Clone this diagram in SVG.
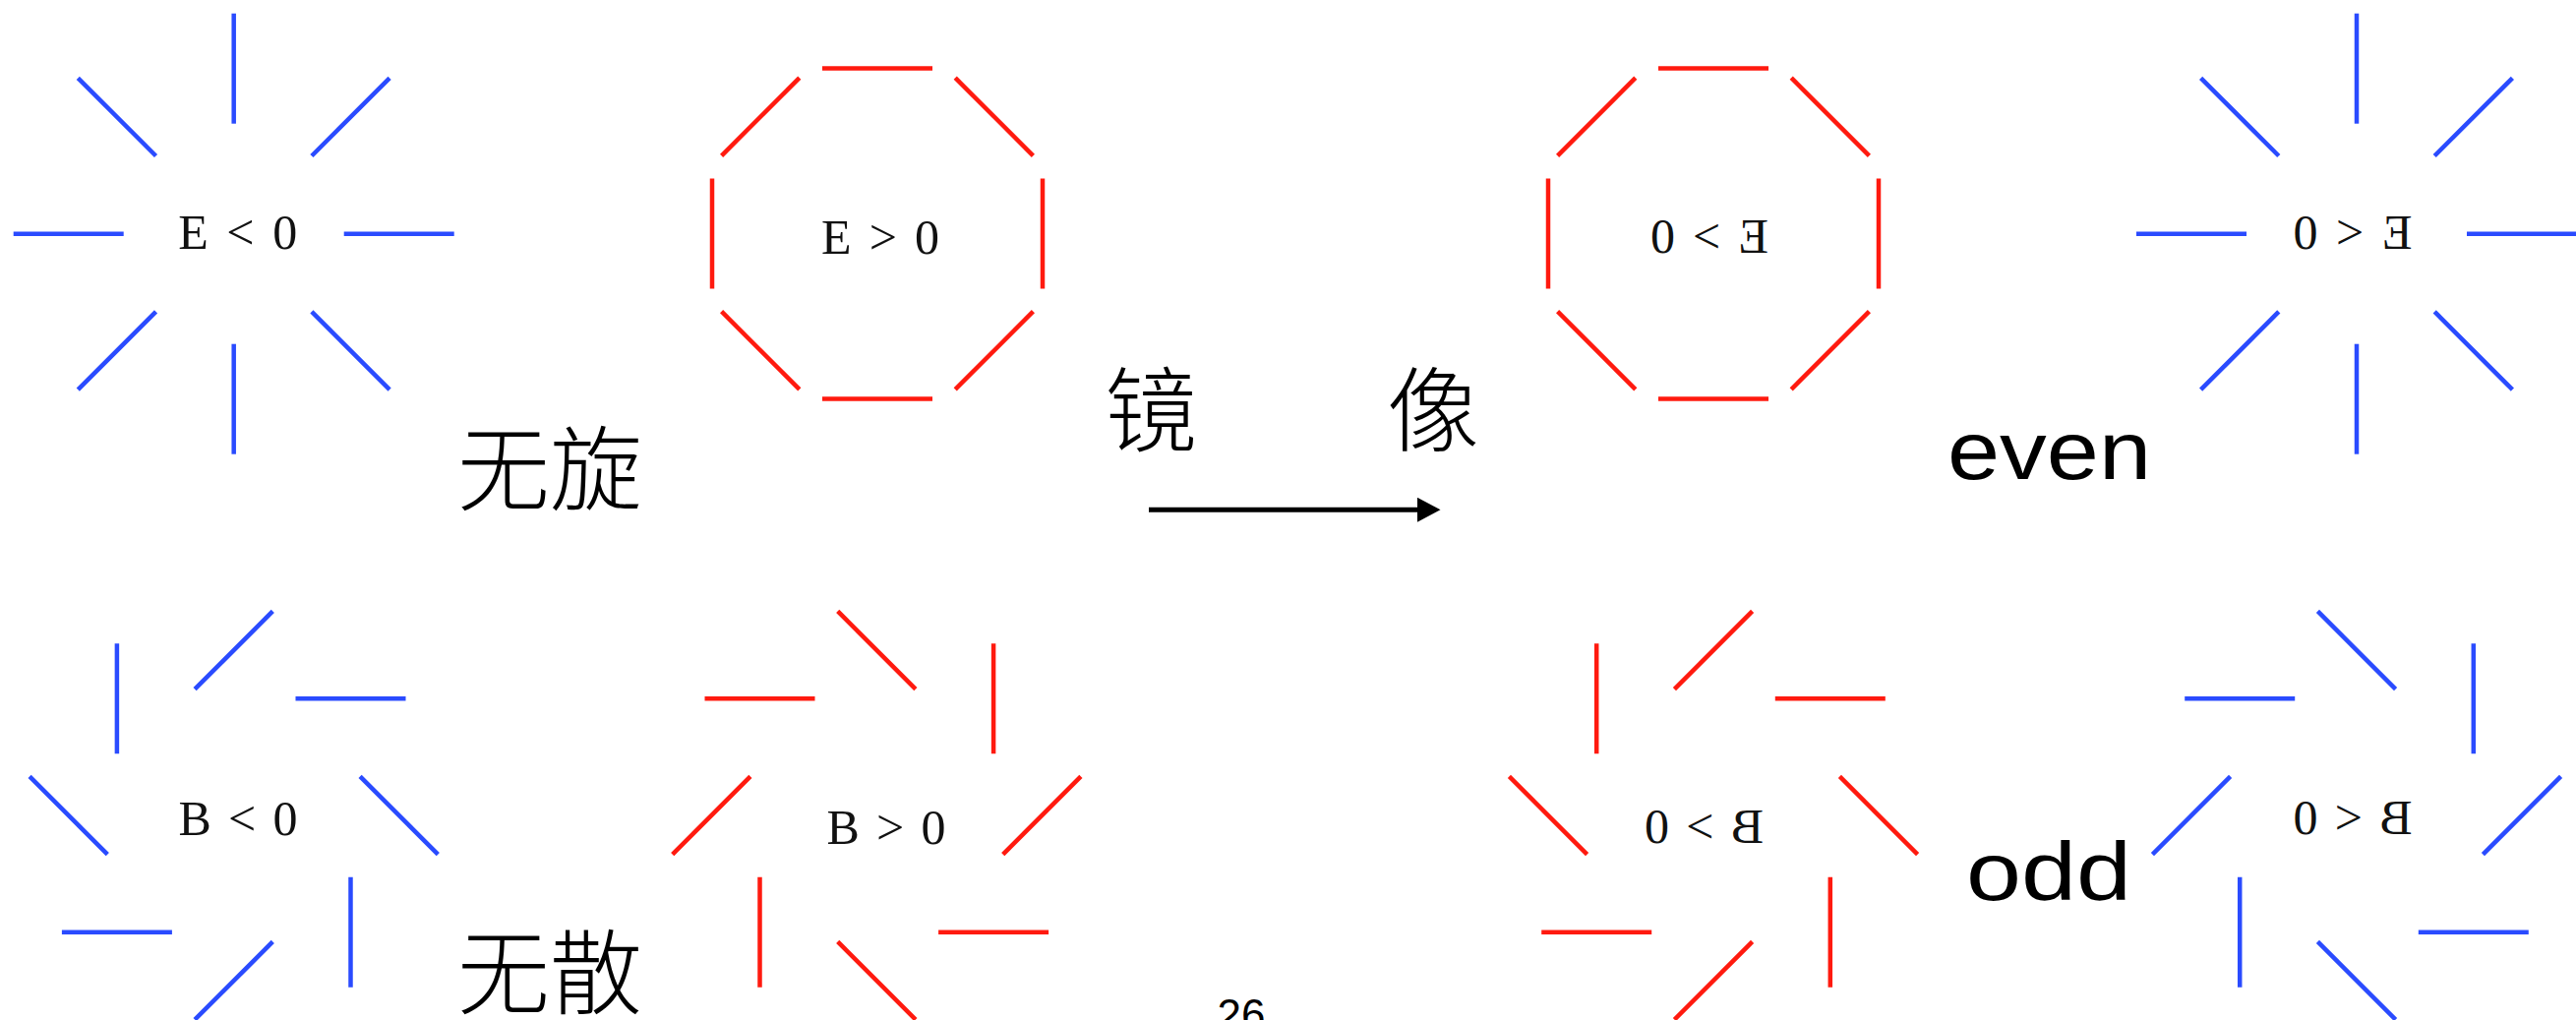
<svg xmlns="http://www.w3.org/2000/svg" width="2619" height="1037" viewBox="0 0 2619 1037">
<style>
  .blue { stroke: #2a4bff; stroke-width: 4.5; stroke-linecap: butt; fill: none; }
  .red { stroke: #ff1a0f; stroke-width: 4.5; stroke-linecap: butt; fill: none; }
  .math { font-family: "Liberation Serif", "DejaVu Serif", serif; font-size: 50px; fill: #111; stroke: none; text-anchor: middle; }
  .cjk { font-family: "Noto Sans CJK SC", sans-serif; font-size: 94px; font-weight: 300; fill: #000; }
  .lat { font-family: "Liberation Sans", "Noto Sans", sans-serif; font-size: 84px; fill: #000; }
  .page { font-family: "Liberation Sans", sans-serif; font-size: 44px; fill: #000; text-anchor: middle; }
  .conn { stroke: #000; stroke-width: 5; fill: none; }
</style>
<defs>
  <g id="star">
    <line x1="112" y1="0" x2="224" y2="0"/>
    <line x1="112" y1="0" x2="224" y2="0" transform="rotate(45)"/>
    <line x1="112" y1="0" x2="224" y2="0" transform="rotate(90)"/>
    <line x1="112" y1="0" x2="224" y2="0" transform="rotate(135)"/>
    <line x1="112" y1="0" x2="224" y2="0" transform="rotate(180)"/>
    <line x1="112" y1="0" x2="224" y2="0" transform="rotate(225)"/>
    <line x1="112" y1="0" x2="224" y2="0" transform="rotate(270)"/>
    <line x1="112" y1="0" x2="224" y2="0" transform="rotate(315)"/>
  </g>
  <g id="ring">
    <line x1="168" y1="-56" x2="168" y2="56"/>
    <line x1="168" y1="-56" x2="168" y2="56" transform="rotate(45)"/>
    <line x1="168" y1="-56" x2="168" y2="56" transform="rotate(90)"/>
    <line x1="168" y1="-56" x2="168" y2="56" transform="rotate(135)"/>
    <line x1="168" y1="-56" x2="168" y2="56" transform="rotate(180)"/>
    <line x1="168" y1="-56" x2="168" y2="56" transform="rotate(225)"/>
    <line x1="168" y1="-56" x2="168" y2="56" transform="rotate(270)"/>
    <line x1="168" y1="-56" x2="168" y2="56" transform="rotate(315)"/>
  </g>
  <g id="swirlA">
    <line x1="128.4" y1="-39.6" x2="207.6" y2="39.6"/>
    <line x1="128.4" y1="-39.6" x2="207.6" y2="39.6" transform="rotate(45)"/>
    <line x1="128.4" y1="-39.6" x2="207.6" y2="39.6" transform="rotate(90)"/>
    <line x1="128.4" y1="-39.6" x2="207.6" y2="39.6" transform="rotate(135)"/>
    <line x1="128.4" y1="-39.6" x2="207.6" y2="39.6" transform="rotate(180)"/>
    <line x1="128.4" y1="-39.6" x2="207.6" y2="39.6" transform="rotate(225)"/>
    <line x1="128.4" y1="-39.6" x2="207.6" y2="39.6" transform="rotate(270)"/>
    <line x1="128.4" y1="-39.6" x2="207.6" y2="39.6" transform="rotate(315)"/>
  </g>
  <g id="swirlB">
    <line x1="128.4" y1="39.6" x2="207.6" y2="-39.6"/>
    <line x1="128.4" y1="39.6" x2="207.6" y2="-39.6" transform="rotate(45)"/>
    <line x1="128.4" y1="39.6" x2="207.6" y2="-39.6" transform="rotate(90)"/>
    <line x1="128.4" y1="39.6" x2="207.6" y2="-39.6" transform="rotate(135)"/>
    <line x1="128.4" y1="39.6" x2="207.6" y2="-39.6" transform="rotate(180)"/>
    <line x1="128.4" y1="39.6" x2="207.6" y2="-39.6" transform="rotate(225)"/>
    <line x1="128.4" y1="39.6" x2="207.6" y2="-39.6" transform="rotate(270)"/>
    <line x1="128.4" y1="39.6" x2="207.6" y2="-39.6" transform="rotate(315)"/>
  </g>
  <marker id="head" markerUnits="userSpaceOnUse" markerWidth="24" markerHeight="26" viewBox="0 0 24 26" refX="0" refY="12.5" orient="auto">
    <path d="M0,0 L23.5,12.5 L0,25 z" fill="#000" stroke="none"/>
  </marker>
</defs>

<rect width="2619" height="1037" fill="#fff"/>

<g id="node-e-neg" class="blue">
  <use href="#star" transform="translate(237.7,237.7)"/>
  <text class="math" x="241.7" y="253" textLength="121" lengthAdjust="spacing">E &lt; 0</text>
</g>
<g id="node-e-pos" class="red">
  <use href="#ring" transform="translate(892,237.5)"/>
  <text class="math" x="895" y="258" textLength="120" lengthAdjust="spacing">E &gt; 0</text>
</g>
<g id="node-e-pos-mirror" class="red">
  <use href="#ring" transform="translate(1742,237.5)"/>
  <text class="math" transform="translate(1738,0) scale(-1,1)" x="0" y="257" textLength="120" lengthAdjust="spacing">E &gt; 0</text>
</g>
<g id="node-e-neg-mirror" class="blue">
  <use href="#star" transform="translate(2396,237.7)"/>
  <text class="math" transform="translate(2392,0) scale(-1,1)" x="0" y="253" textLength="121" lengthAdjust="spacing">E &lt; 0</text>
</g>

<g id="node-b-neg" class="blue">
  <use href="#swirlA" transform="translate(237.7,829)"/>
  <text class="math" x="242" y="849" textLength="121" lengthAdjust="spacing">B &lt; 0</text>
</g>
<g id="node-b-pos" class="red">
  <use href="#swirlB" transform="translate(891.3,829)"/>
  <text class="math" x="901" y="858" textLength="121" lengthAdjust="spacing">B &gt; 0</text>
</g>
<g id="node-b-pos-mirror" class="red">
  <use href="#swirlA" transform="translate(1742,829)"/>
  <text class="math" transform="translate(1732.5,0) scale(-1,1)" x="0" y="857" textLength="121" lengthAdjust="spacing">B &gt; 0</text>
</g>
<g id="node-b-neg-mirror" class="blue">
  <use href="#swirlB" transform="translate(2396,829)"/>
  <text class="math" transform="translate(2392,0) scale(-1,1)" x="0" y="848" textLength="121" lengthAdjust="spacing">B &lt; 0</text>
</g>

<g id="label-curl-free">
  <text class="cjk" x="465" y="512">无旋</text>
</g>
<g id="label-div-free">
  <text class="cjk" x="465" y="1024">无散</text>
</g>
<g id="label-mirror">
  <text class="cjk" x="1123" y="452">镜</text>
  <text class="cjk" x="1410" y="452">像</text>
</g>
<g id="label-even">
  <text class="lat" x="1980" y="487" textLength="207" lengthAdjust="spacingAndGlyphs">even</text>
</g>
<g id="label-odd">
  <text class="lat" x="1999" y="915" textLength="168" lengthAdjust="spacingAndGlyphs">odd</text>
</g>
<g id="page-number">
  <text class="page" x="1262" y="1047">26</text>
</g>

<g id="connectors">
  <line class="conn" x1="1168" y1="518.3" x2="1441" y2="518.3" marker-end="url(#head)"/>
</g>
</svg>
